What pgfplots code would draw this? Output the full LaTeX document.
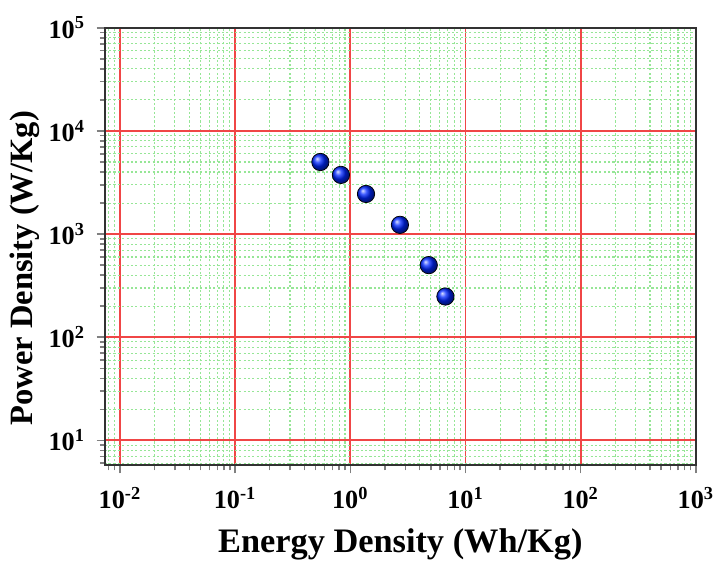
\documentclass[border=0pt]{standalone}
\usepackage{pgfplots}
\pgfplotsset{compat=1.18}
\usepackage{fontspec}
\setmainfont{Liberation Serif}
\definecolor{cGridMaj}{RGB}{240,70,70}
\definecolor{cGridMin}{RGB}{150,230,150}
\definecolor{cFrame}{RGB}{50,50,50}
\begin{document}
\begin{tikzpicture}
\begin{axis}[
    scale only axis,
    width=327pt,
    height=242pt,
    xmode=log, ymode=log,
    xmin=0.0074, xmax=1000,
    ymin=5.74, ymax=100000,
    xtick={0.01,0.1,1,10,100,1000},
    xticklabels={10\textsuperscript{-2},10\textsuperscript{-1},10\textsuperscript{0},10\textsuperscript{1},10\textsuperscript{2},10\textsuperscript{3}},
    ytick={10,100,1000,10000,100000},
    yticklabels={10\textsuperscript{1},10\textsuperscript{2},10\textsuperscript{3},10\textsuperscript{4},10\textsuperscript{5}},
    minor xtick={0.008,0.009,
        0.02,0.03,0.04,0.05,0.06,0.07,0.08,0.09,
        0.2,0.3,0.4,0.5,0.6,0.7,0.8,0.9,
        2,3,4,5,6,7,8,9,
        20,30,40,50,60,70,80,90,
        200,300,400,500,600,700,800,900},
    minor ytick={6,7,8,9,
        20,30,40,50,60,70,80,90,
        200,300,400,500,600,700,800,900,
        2000,3000,4000,5000,6000,7000,8000,9000,
        20000,30000,40000,50000,60000,70000,80000,90000},
    tick label style={font=\fontsize{14.5}{16}\selectfont\bfseries},
    xticklabel style={yshift=-4pt},
    yticklabel style={xshift=-3pt},
    xlabel={Energy Density (Wh/Kg)},
    ylabel={Power Density (W/Kg)},
    xlabel style={font=\fontsize{19}{21}\selectfont\bfseries, yshift=-4pt},
    ylabel style={font=\fontsize{18}{20}\selectfont\bfseries, yshift=-2pt, xshift=-12pt},
    axis line style={cFrame, line width=1.1pt},
    tick align=outside,
    xtick pos=bottom, ytick pos=left,
    major tick length=4.5pt, minor tick length=2.8pt,
    tick style={line width=0.8pt},
    grid=both,
    major grid style={draw=cGridMaj, line width=1pt},
    minor grid style={draw=cGridMin, line width=0.6pt, dash pattern=on 1.2pt off 1.2pt},
]
\addplot[only marks, mark=ball, mark size=4.8pt, ball color=blue!85!cyan] coordinates {
    (0.55,5000)(0.83,3750)(1.37,2450)(2.7,1230)(4.8,500)(6.7,248)};
\end{axis}
\path ([shift={(-58pt,-50.6pt)}]current axis.south west) rectangle ([shift={(11pt,15.4pt)}]current axis.north east);
\end{tikzpicture}
\end{document}
